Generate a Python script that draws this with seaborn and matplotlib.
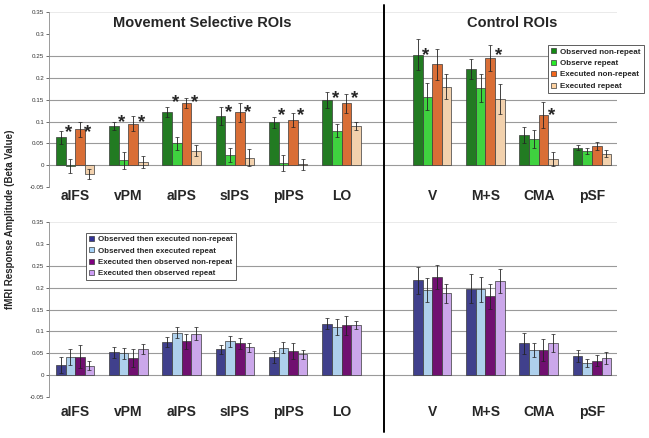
import matplotlib
matplotlib.use('Agg')
import matplotlib.pyplot as plt
from matplotlib.patches import Patch
from matplotlib.lines import Line2D
import numpy as np
import pandas as pd
import seaborn as sns

# ROIs, left block = movement selective, right block = control
rois = ['aIFS', 'vPM', 'aIPS', 'sIPS', 'pIPS', 'LO', 'V', 'M+S', 'CMA', 'pSF']
roi_pos = [0, 1, 2, 3, 4, 5, 6.7, 7.7, 8.7, 9.7]

# top row: within-modality
top_conds = ['Observed non-repeat', 'Observe repeat', 'Executed non-repeat', 'Executed repeat']
top_colors = ['#138a13', '#26ea26', '#f4661b', '#fdd2a2']
obs_nonrep = [0.064, 0.089, 0.122, 0.113, 0.098, 0.150, 0.253, 0.221, 0.069, 0.040]
obs_rep = [-0.002, 0.011, 0.050, 0.024, 0.005, 0.079, 0.157, 0.176, 0.060, 0.033]
exe_nonrep = [0.082, 0.095, 0.142, 0.121, 0.103, 0.142, 0.231, 0.246, 0.115, 0.044]
exe_rep = [-0.020, 0.007, 0.033, 0.017, 0.002, 0.090, 0.180, 0.151, 0.014, 0.026]
obs_nonrep_err = [0.015, 0.009, 0.011, 0.020, 0.012, 0.018, 0.036, 0.023, 0.018, 0.006]
obs_rep_err = [0.017, 0.020, 0.015, 0.016, 0.018, 0.015, 0.031, 0.032, 0.021, 0.007]
exe_nonrep_err = [0.017, 0.017, 0.012, 0.022, 0.016, 0.022, 0.035, 0.030, 0.030, 0.010]
exe_rep_err = [0.012, 0.013, 0.013, 0.020, 0.012, 0.010, 0.028, 0.034, 0.017, 0.008]

# significance stars: roi index, bar index, height
star_roi = [0, 0, 1, 1, 2, 2, 3, 3, 4, 4, 5, 5, 6, 7, 8]
star_bar = [1, 3, 1, 3, 1, 3, 1, 3, 1, 3, 1, 3, 1, 3, 3]
star_y = [0.088, 0.088, 0.111, 0.111, 0.157, 0.157, 0.134, 0.134, 0.127, 0.127,
          0.166, 0.166, 0.264, 0.264, 0.127]

# bottom row: cross-modality
bot_conds = ['Observed then executed non-repeat', 'Observed then executed repeat',
             'Executed then observed non-repeat', 'Executed then observed repeat']
bot_colors = ['#333399', '#a3d1f7', '#800080', '#cc9cf5']
oe_nonrep = [0.023, 0.052, 0.076, 0.059, 0.041, 0.118, 0.217, 0.198, 0.073, 0.043]
oe_rep = [0.041, 0.050, 0.097, 0.077, 0.063, 0.110, 0.194, 0.196, 0.057, 0.028]
eo_nonrep = [0.042, 0.039, 0.077, 0.073, 0.055, 0.114, 0.224, 0.180, 0.057, 0.033]
eo_rep = [0.022, 0.060, 0.095, 0.064, 0.048, 0.114, 0.187, 0.215, 0.074, 0.039]
oe_nonrep_err = [0.019, 0.012, 0.011, 0.010, 0.014, 0.013, 0.031, 0.033, 0.024, 0.014]
oe_rep_err = [0.018, 0.013, 0.013, 0.012, 0.013, 0.018, 0.027, 0.028, 0.016, 0.009]
eo_nonrep_err = [0.026, 0.020, 0.018, 0.013, 0.018, 0.022, 0.028, 0.029, 0.025, 0.012]
eo_rep_err = [0.010, 0.011, 0.014, 0.010, 0.010, 0.009, 0.022, 0.028, 0.020, 0.013]

yticks = [-0.05, 0, 0.05, 0.1, 0.15, 0.2, 0.25, 0.3, 0.35]
ytick_labels = ['-0.05', '0', '0.05', '0.1', '0.15', '0.2', '0.25', '0.3', '0.35']

sns.set_style('white')
plt.rcParams['font.family'] = ['Liberation Sans', 'DejaVu Sans']

BW = 0.18  # single bar width


def draw_row(ax, conds, colors, vals, errs):
    rows = []
    for c, v in zip(conds, vals):
        for p, y in zip(roi_pos, v):
            rows.append({'pos': p, 'value': y, 'cond': c})
    df = pd.DataFrame(rows)
    sns.barplot(data=df, x='pos', y='value', hue='cond', hue_order=conds,
                palette=colors, native_scale=True, width=4 * BW, errorbar=None,
                edgecolor='#3a3a3a', linewidth=0.5, ax=ax, legend=False, zorder=3)
    for i, e in enumerate(errs):
        xs = np.array(roi_pos) + (i - 1.5) * BW
        ax.errorbar(xs, vals[i], yerr=e, fmt='none', ecolor='#222222',
                    elinewidth=0.6, capsize=1.3, capthick=0.5, zorder=4)
    for g in [0, 0.05, 0.1, 0.15, 0.2, 0.25]:
        ax.axhline(g, color='#9a9a9a', lw=0.8, zorder=1)
    ax.axhline(0.35, color='#e6e6e6', lw=0.6, zorder=1)
    ax.set_xlim(-0.49, 10.17)
    ax.set_ylim(-0.05, 0.35)
    ax.set_yticks(yticks, ytick_labels)
    ax.tick_params(axis='y', labelsize=4.5, colors='#333333', length=2, width=0.5,
                   pad=1.5, left=True)
    ax.set_xlabel('')
    ax.set_ylabel('')
    for s in ['top', 'right', 'bottom']:
        ax.spines[s].set_visible(False)
    ax.spines['left'].set_color('#8a8a8a')
    ax.spines['left'].set_linewidth(0.6)


fig = plt.figure(figsize=(6.49, 4.38), dpi=100)
ax_top = fig.add_axes([49 / 649, 1 - 187 / 438, 568 / 649, 174.6 / 438])
ax_bot = fig.add_axes([49 / 649, 1 - 397 / 438, 568 / 649, 175 / 438])

draw_row(ax_top, top_conds, top_colors,
         [obs_nonrep, obs_rep, exe_nonrep, exe_rep],
         [obs_nonrep_err, obs_rep_err, exe_nonrep_err, exe_rep_err])
draw_row(ax_bot, bot_conds, bot_colors,
         [oe_nonrep, oe_rep, eo_nonrep, eo_rep],
         [oe_nonrep_err, oe_rep_err, eo_nonrep_err, eo_rep_err])

ax_top.set_xticks(roi_pos, rois)
ax_bot.set_xticks(roi_pos, rois)
ax_top.tick_params(axis='x', pad=1.5, length=0, labelsize=10)
ax_bot.tick_params(axis='x', pad=6.0, length=0, labelsize=10)
for ax in (ax_top, ax_bot):
    for lab in ax.get_xticklabels():
        lab.set_fontweight('bold')

# stars
for r, b, y in zip(star_roi, star_bar, star_y):
    x = roi_pos[r] + (b - 1.5) * BW - 0.03
    ax_top.annotate('*', (x, y), xytext=(0, -7.6), textcoords='offset points',
                    ha='center', va='baseline', fontsize=13.5, fontweight='bold',
                    zorder=5)

# panel titles
fig.text(202 / 649, 1 - 23 / 438, 'Movement Selective ROIs', ha='center', va='center',
         fontsize=10.5, fontweight='bold')
fig.text(512 / 649, 1 - 23 / 438, 'Control ROIs', ha='center', va='center',
         fontsize=10.5, fontweight='bold')

# y label
fig.text(10 / 649, 0.5, 'fMRI Response Amplitude (Beta Value)', rotation=90,
         ha='center', va='center', fontsize=7, fontweight='bold')

# divider between movement-selective and control ROIs
fig.add_artist(Line2D([384 / 649, 384 / 649], [1 - 5 / 438, 1 - 432 / 438],
                      color='black', lw=1.4))

# legends
top_handles = [Patch(facecolor=c, edgecolor='#3a3a3a', lw=0.5) for c in top_colors]
leg = fig.legend(top_handles, top_conds, loc='upper left',
                 bbox_to_anchor=(544 / 649, 1 - 41 / 438),
                 prop={'size': 5.8, 'weight': 'bold'}, handlelength=0.6,
                 handleheight=0.6, handletextpad=0.5, labelspacing=0.5,
                 borderpad=0.4, frameon=True, fancybox=False,
                 edgecolor='#444444', framealpha=1)
leg.get_frame().set_linewidth(0.6)

bot_handles = [Patch(facecolor=c, edgecolor='#3a3a3a', lw=0.5) for c in bot_colors]
leg2 = fig.legend(bot_handles, bot_conds, loc='upper left',
                  bbox_to_anchor=(82 / 649, 1 - 229 / 438),
                  prop={'size': 5.7, 'weight': 'bold'}, handlelength=0.6,
                  handleheight=0.6, handletextpad=0.5, labelspacing=0.5,
                  borderpad=0.4, frameon=True, fancybox=False,
                  edgecolor='#444444', framealpha=1)
leg2.get_frame().set_linewidth(0.6)

fig.savefig('out.png', dpi=100)
